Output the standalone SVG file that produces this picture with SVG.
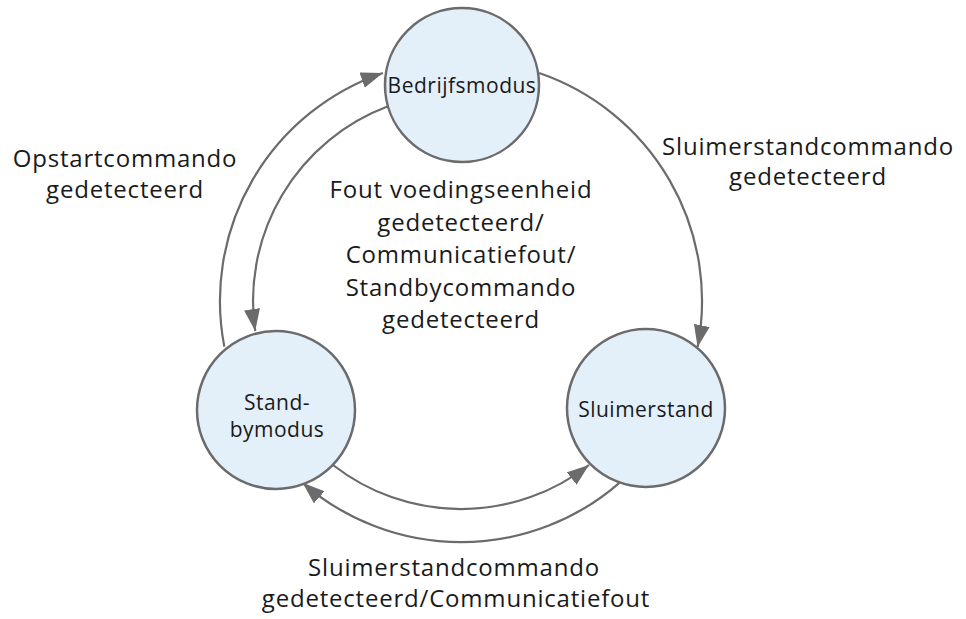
<svg xmlns="http://www.w3.org/2000/svg" width="966" height="619" viewBox="0 0 966 619">
<defs>
<style>
.node{fill:#e3f0fa;stroke:#6b6b6b;stroke-width:2.5}
.edge{fill:none;stroke:#6b6b6b;stroke-width:2.2}
.nt{font-family:"Open Sans","Noto Sans",sans-serif;font-size:21px;letter-spacing:0.5px;fill:#1a1a1a;text-anchor:middle}
.lbl{font-family:"Open Sans","Noto Sans",sans-serif;font-size:24px;letter-spacing:0.8px;fill:#1a1a1a;text-anchor:middle}
</style>
<marker id="arr" markerUnits="userSpaceOnUse" markerWidth="24" markerHeight="17" refX="22" refY="8" orient="auto">
<path d="M0,0 L22,8 L0,16 z" fill="#6b6b6b"/>
</marker>
</defs>
<rect width="966" height="619" fill="#ffffff"/>
<g id="connectors">
<path class="edge" marker-end="url(#arr)" d="M224.3,346.6 A241,241 0 0 1 382.9,73"/>
<path class="edge" marker-end="url(#arr)" d="M388,106.3 A208,208 0 0 0 255.2,331"/>
<path class="edge" marker-end="url(#arr)" d="M539.1,73 A241,241 0 0 1 697.6,347"/>
<path class="edge" marker-end="url(#arr)" d="M333,465 A208,208 0 0 0 589,465"/>
<path class="edge" marker-end="url(#arr)" d="M619.4,482.8 A241,241 0 0 1 302.6,482.8"/>
</g>
<g id="node-bedrijfsmodus">
<circle class="node" cx="462" cy="85" r="77"/>
<text class="nt" x="462" y="93">Bedrijfsmodus</text>
</g>
<g id="node-standbymodus">
<circle class="node" cx="276" cy="410" r="79"/>
<text class="nt" x="277" y="410">Stand-</text>
<text class="nt" x="277" y="437">bymodus</text>
</g>
<g id="node-sluimerstand">
<circle class="node" cx="646" cy="408" r="79"/>
<text class="nt" x="646" y="417">Sluimerstand</text>
</g>
<g id="labels">
<text class="lbl" x="125" y="167">Opstartcommando</text>
<text class="lbl" x="125" y="198">gedetecteerd</text>
<text class="lbl" x="808" y="155">Sluimerstandcommando</text>
<text class="lbl" x="808" y="185">gedetecteerd</text>
<text class="lbl" x="461" y="198">Fout voedingseenheid</text>
<text class="lbl" x="461" y="230.5">gedetecteerd/</text>
<text class="lbl" x="461" y="263">Communicatiefout/</text>
<text class="lbl" x="461" y="295.5">Standbycommando</text>
<text class="lbl" x="461" y="328">gedetecteerd</text>
<text class="lbl" x="454" y="576">Sluimerstandcommando</text>
<text class="lbl" x="456" y="607">gedetecteerd/Communicatiefout</text>
</g>
</svg>
